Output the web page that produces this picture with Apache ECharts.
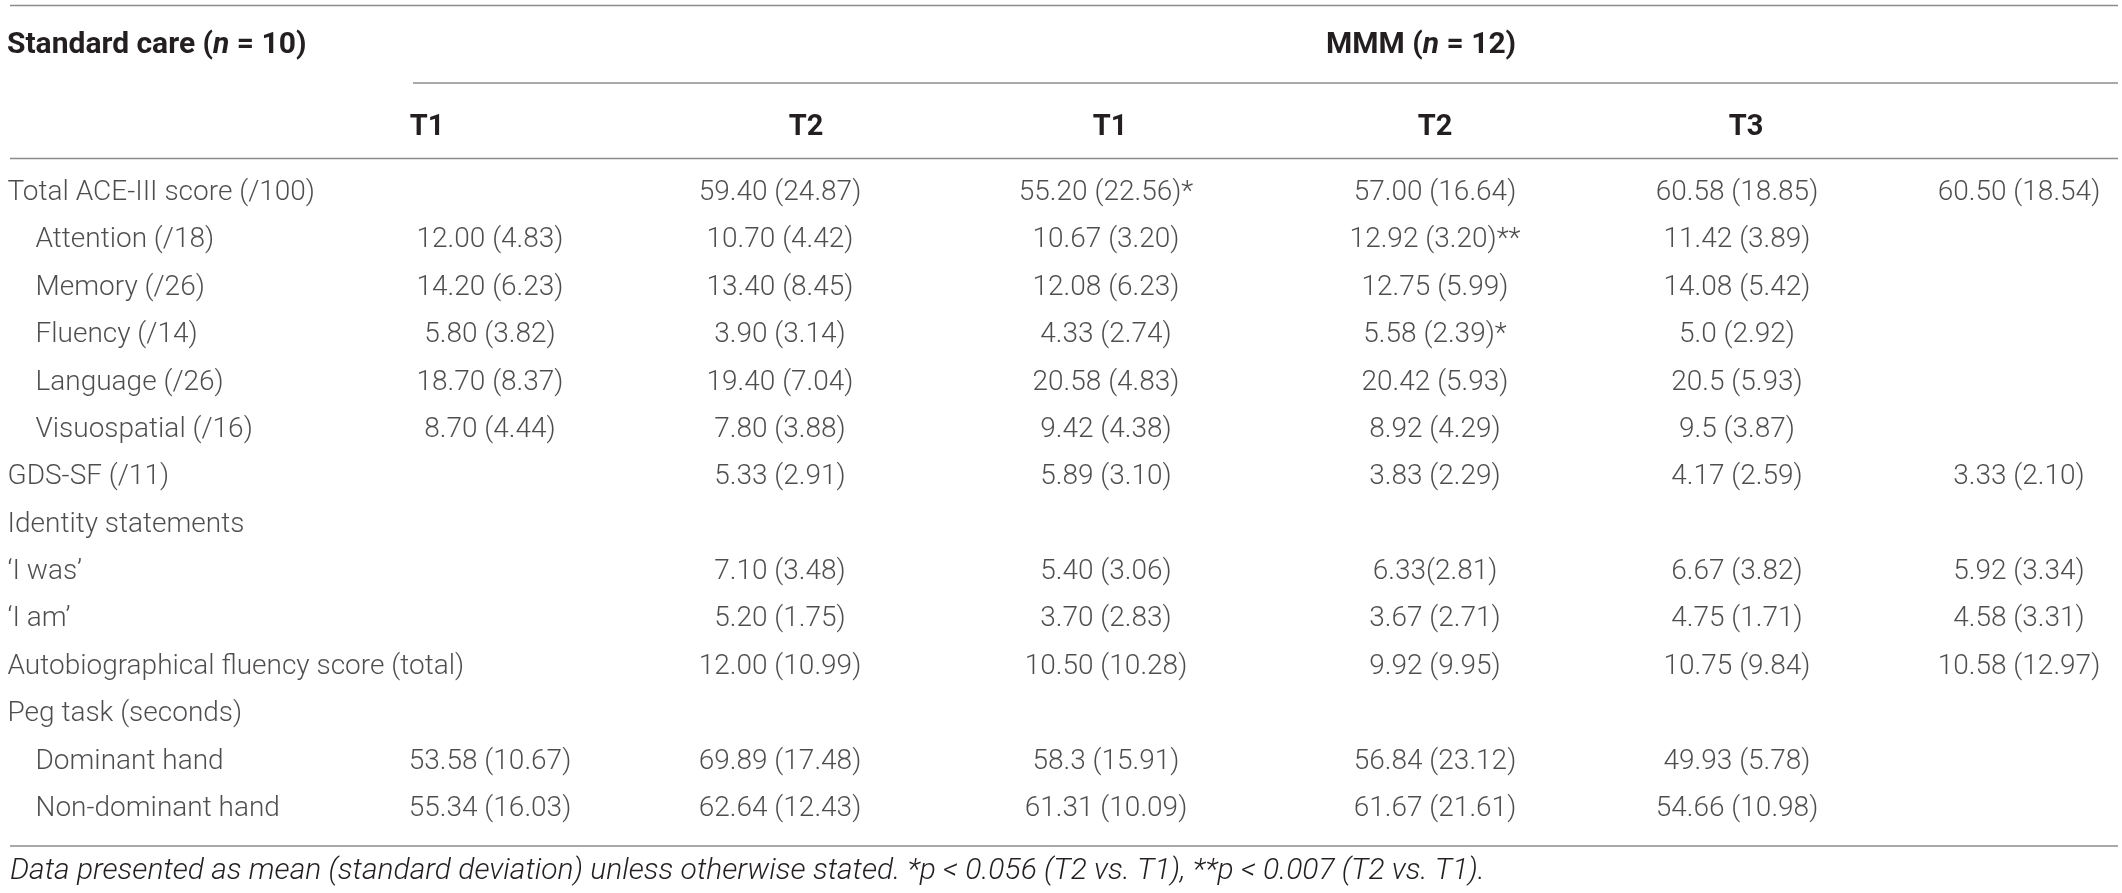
<!DOCTYPE html>
<html>
<head>
<meta charset="utf-8">
<title>ACE-III, GDS-SF, identity and peg task scores</title>
<script src="https://cdn.jsdelivr.net/npm/echarts@6/dist/echarts.min.js"></script>
<style>
    html, body { margin: 0; padding: 0; background: #fff; }
    #chart { width: 2122px; height: 893px; }
</style>
</head>
<body>
<div id="chart"></div>
<script>
// ---- table data ----
var rowLabels = [
    'Total ACE-III score (/100)', 'Attention (/18)', 'Memory (/26)', 'Fluency (/14)',
    'Language (/26)', 'Visuospatial (/16)', 'GDS-SF (/11)', 'Identity statements',
    '\u2018I was\u2019', '\u2018I am\u2019', 'Autobiographical fluency score (total)',
    'Peg task (seconds)', 'Dominant hand', 'Non-dominant hand'
];
var rowIndented = [false, true, true, true, true, true, false, false, false, false, false, false, true, true];

var groupHeaders = ['Standard care', 'MMM'];
var groupSizes = [10, 12];
var colHeaders = ['T1', 'T2', 'T1', 'T2', 'T3', ''];

var col1 = ['', '12.00 (4.83)', '14.20 (6.23)', '5.80 (3.82)', '18.70 (8.37)', '8.70 (4.44)', '', '', '', '', '', '', '53.58 (10.67)', '55.34 (16.03)'];
var col2 = ['59.40 (24.87)', '10.70 (4.42)', '13.40 (8.45)', '3.90 (3.14)', '19.40 (7.04)', '7.80 (3.88)', '5.33 (2.91)', '', '7.10 (3.48)', '5.20 (1.75)', '12.00 (10.99)', '', '69.89 (17.48)', '62.64 (12.43)'];
var col3 = ['55.20 (22.56)*', '10.67 (3.20)', '12.08 (6.23)', '4.33 (2.74)', '20.58 (4.83)', '9.42 (4.38)', '5.89 (3.10)', '', '5.40 (3.06)', '3.70 (2.83)', '10.50 (10.28)', '', '58.3 (15.91)', '61.31 (10.09)'];
var col4 = ['57.00 (16.64)', '12.92 (3.20)**', '12.75 (5.99)', '5.58 (2.39)*', '20.42 (5.93)', '8.92 (4.29)', '3.83 (2.29)', '', '6.33(2.81)', '3.67 (2.71)', '9.92 (9.95)', '', '56.84 (23.12)', '61.67 (21.61)'];
var col5 = ['60.58 (18.85)', '11.42 (3.89)', '14.08 (5.42)', '5.0 (2.92)', '20.5 (5.93)', '9.5 (3.87)', '4.17 (2.59)', '', '6.67 (3.82)', '4.75 (1.71)', '10.75 (9.84)', '', '49.93 (5.78)', '54.66 (10.98)'];
var col6 = ['60.50 (18.54)', '', '', '', '', '', '3.33 (2.10)', '', '5.92 (3.34)', '4.58 (3.31)', '10.58 (12.97)', '', '', ''];

var footnote = 'Data presented as mean (standard deviation) unless otherwise stated. *p < 0.056 (T2 vs. T1), **p < 0.007 (T2 vs. T1).';

// ---- layout ----
var FONT = 'Roboto, "Liberation Sans", Arial, sans-serif';
var TEXT = '#231f20';
var RULE = '#8c8c8c';
var bodyTop = 193, bodyHeight = 616;
var colCenters = [490, 780, 1106, 1435, 1737, 2036];
var headerPad = [[0, 126, 0, 0], [0, 0, 0, 52], [0, 0, 0, 8], [0, 0, 0, 0], [0, 0, 0, 18], [0, 0, 0, 0]];
var colWidth = 240;

var columns = [col1, col2, col3, col4, col5, col6];

var dom = document.getElementById('chart');
var chart = echarts.init(dom, null, { renderer: 'canvas' });

var grids = [], xAxes = [], yAxes = [], series = [];

function rowAxis(idx) {
    return {
        type: 'category', gridIndex: idx, inverse: true, boundaryGap: false,
        data: rowLabels, show: false
    };
}

// label column
grids.push({ left: 7, top: bodyTop, width: 380, height: bodyHeight });
xAxes.push({ type: 'value', gridIndex: 0, min: 0, max: 1, show: false });
yAxes.push(rowAxis(0));
series.push({
    type: 'scatter', xAxisIndex: 0, yAxisIndex: 0, symbolSize: 1, silent: true,
    itemStyle: { color: 'transparent' },
    data: rowLabels.map(function (name, i) { return [0, i, rowIndented[i] ? 1 : 0]; }),
    label: {
        show: true, position: 'right', distance: 0,
        formatter: function (p) {
            var name = rowLabels[p.dataIndex];
            return p.data[2] ? '{ind|' + name + '}' : name;
        },
        color: TEXT, fontFamily: FONT, fontSize: 28, fontWeight: 300,
        rich: { ind: { padding: [0, 0, 0, 28], color: TEXT, fontFamily: FONT, fontSize: 28, fontWeight: 300 } }
    }
});

// value columns
columns.forEach(function (cells, k) {
    var gi = k + 1;
    grids.push({ left: colCenters[k] - colWidth / 2, top: bodyTop, width: colWidth, height: bodyHeight });
    xAxes.push({
        type: 'category', gridIndex: gi, position: 'top', data: [colHeaders[k]],
        axisLine: { show: false }, axisTick: { show: false }, splitLine: { show: false },
        axisLabel: {
            margin: 51, color: TEXT, fontFamily: FONT, fontSize: 29, fontWeight: 'bold',
            lineHeight: 29, padding: headerPad[k]
        }
    });
    yAxes.push(rowAxis(gi));
    var data = [];
    cells.forEach(function (c, i) {
        if (c) data.push([0, i, c]);
    });
    series.push({
        type: 'scatter', xAxisIndex: gi, yAxisIndex: gi, symbolSize: 1, silent: true,
        itemStyle: { color: 'transparent' },
        data: data,
        label: {
            show: true, position: 'inside',
            formatter: function (p) { return p.data[2]; },
            color: TEXT, fontFamily: FONT, fontSize: 28, fontWeight: 300
        }
    });
});

function groupTitle(name, n, left) {
    return {
        left: left, top: 28, padding: 0,
        text: '{b|' + name + ' (}{i|n}{b| = ' + n + ')}',
        textStyle: {
            rich: {
                b: { fontFamily: FONT, fontSize: 30, fontWeight: 'bold', color: TEXT, lineHeight: 34 },
                i: { fontFamily: FONT, fontSize: 30, fontWeight: 'bold', fontStyle: 'italic', color: TEXT, lineHeight: 34 }
            }
        }
    };
}

function rule(x1, y, x2) {
    return {
        type: 'line', silent: true,
        shape: { x1: x1, y1: y, x2: x2, y2: y },
        style: { stroke: RULE, lineWidth: 1.5 }
    };
}

var option = {
    animation: false,
    backgroundColor: '#fff',
    title: [
        groupTitle(groupHeaders[0], groupSizes[0], 7),
        groupTitle(groupHeaders[1], groupSizes[1], 1326),
        {
            left: 10, top: 855, padding: 0, text: footnote,
            textStyle: { fontFamily: FONT, fontSize: 30, fontStyle: 'italic', fontWeight: 300, color: TEXT, lineHeight: 32 }
        }
    ],
    grid: grids,
    xAxis: xAxes,
    yAxis: yAxes,
    series: series,
    graphic: [
        rule(10, 5.5, 2118),
        rule(413, 83, 2118),
        rule(10, 158.5, 2118),
        rule(10, 846, 2118)
    ]
};

chart.setOption(option, true);
</script>
</body>
</html>
